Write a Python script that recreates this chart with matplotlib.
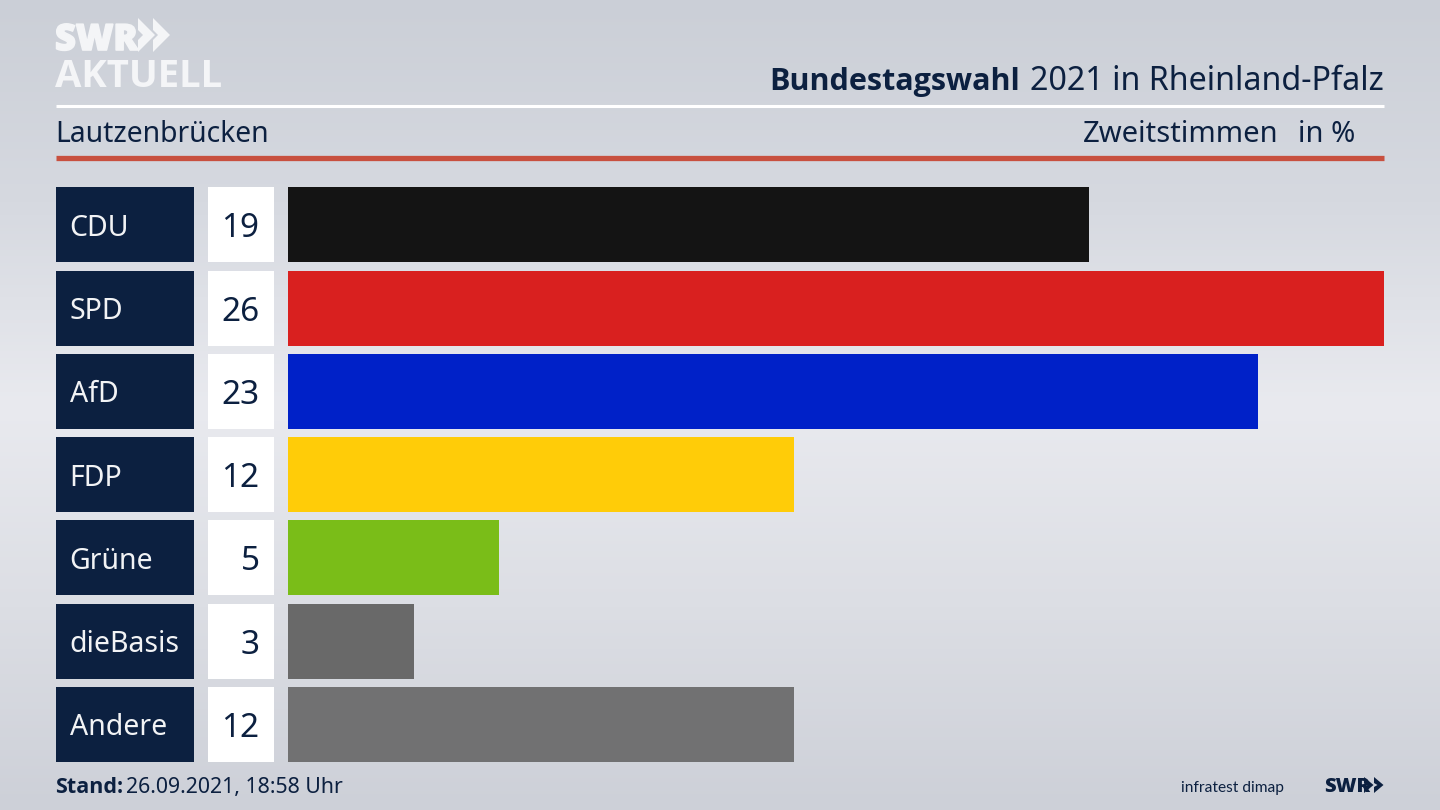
import matplotlib.pyplot as plt
import matplotlib.patheffects as pe
from matplotlib.colors import LinearSegmentedColormap
from matplotlib.patches import Polygon
import numpy as np

# Data
parties = ['CDU', 'SPD', 'AfD', 'FDP', 'Grüne', 'dieBasis', 'Andere']
values = [19, 26, 23, 12, 5, 3, 12]
colors = ['#141414', '#d9201f', '#0021c8', '#ffcc08', '#7abd18', '#696969', '#717172']

navy = '#0c2040'
W, H = 1440, 810
plt.rcParams['font.family'] = ['Noto Sans', 'DejaVu Sans']

fig = plt.figure(figsize=(W / 100, H / 100), dpi=100)


def px_axes(x0, y0, x1, y1):
    # axes placed by pixel box, y counted from the top of the picture
    return fig.add_axes([x0 / W, 1 - y1 / H, (x1 - x0) / W, (y1 - y0) / H])


def chevron(axes, x, top, bottom, wide, thick, color):
    mid = (top + bottom) / 2
    axes.add_patch(Polygon([[x, top], [x + wide, mid], [x, bottom], [x, bottom - thick],
                            [x + wide - thick, mid], [x, top + thick]],
                           closed=True, color=color, lw=0))


# Background and header in pixel coordinates
bg = px_axes(0, 0, W, H)
bg.set_xlim(0, W)
bg.set_ylim(H, 0)
bg.axis('off')
cmap = LinearSegmentedColormap.from_list('bg', ['#cbcfd7', '#d6d9e0', '#e9eaef', '#dcdee4', '#cdd0d8'])
bg.imshow(np.linspace(0, 1, 256).reshape(-1, 1), cmap=cmap, extent=[0, W, H, 0], aspect='auto', zorder=0)

bg.plot([56, 1384], [105.5, 105.5], color='white', lw=2.2, solid_capstyle='butt')
bg.plot([56, 1384], [157.5, 157.5], color='#c8503f', lw=3.8, solid_capstyle='butt')

# SWR AKTUELL logo
swr = bg.text(55, 50, 'SWR', color='#f4f5f7', fontsize=26, fontweight='black', family='Open Sans', va='baseline', ha='left')
swr.set_path_effects([pe.withStroke(linewidth=1.2, foreground='#f4f5f7')])
bg.text(55, 87, 'AKTUELL', color='#f4f5f7', fontsize=27.5, fontweight='bold', family='Open Sans', va='baseline', ha='left')
for x in [138, 153]:
    chevron(bg, x, 18, 52, 17, 12, '#f4f5f7')

# Header texts
bg.text(769, 90, 'Bundestagswahl', color=navy, fontsize=22, fontweight='bold', family='Open Sans', va='baseline', ha='left')
bg.text(1384, 90, '2021 in Rheinland-Pfalz', color=navy, fontsize=23.2, va='baseline', ha='right')
bg.text(55, 142, 'Lautzenbrücken', color=navy, fontsize=20.4, va='baseline', ha='left')
bg.text(1278.5, 142, 'Zweitstimmen', color=navy, fontsize=21, va='baseline', ha='right')
bg.text(1355, 142, 'in %', color=navy, fontsize=21, va='baseline', ha='right')

# Footer
bg.text(55, 793, 'Stand:', color=navy, fontsize=15.5, fontweight='bold', family='Open Sans', va='baseline', ha='left')
bg.text(126, 793, '26.09.2021, 18:58 Uhr', color=navy, fontsize=15.3, va='baseline', ha='left')
bg.text(1284, 792, 'infratest dimap', color=navy, fontsize=11.2, family='Lato', va='baseline', ha='right')
bg.text(1324, 792, 'SWR', color=navy, fontsize=14.5, fontweight='black', family='Open Sans', va='baseline', ha='left')
for x in [1364, 1374]:
    chevron(bg, x, 777, 793, 9.5, 6, navy)

# Row boxes with party name and value
y = np.arange(len(parties))
lab = px_axes(56, 183.3, 274, 766)
lab.set_xlim(56, 274)
lab.set_ylim(6.5, -0.5)
lab.axis('off')
lab.barh(y, 137.5, left=56, height=0.9, color=navy)
lab.barh(y, 66, left=208, height=0.9, color='white')
for i in y:
    lab.text(69.5, i, parties[i], color='#f2f3f5', fontsize=20.5, va='center_baseline', ha='left')
    lab.text(259.5, i, str(values[i]), color=navy, fontsize=24, va='center_baseline', ha='right')

# Bars, scale fixed so that 26 reaches the right margin
ax = px_axes(288, 183.3, 1384, 766)
ax.set_xlim(0, 26)
ax.set_ylim(6.5, -0.5)
ax.axis('off')
ax.barh(y, values, height=0.9, color=colors)

fig.savefig('out.png', dpi=100)
